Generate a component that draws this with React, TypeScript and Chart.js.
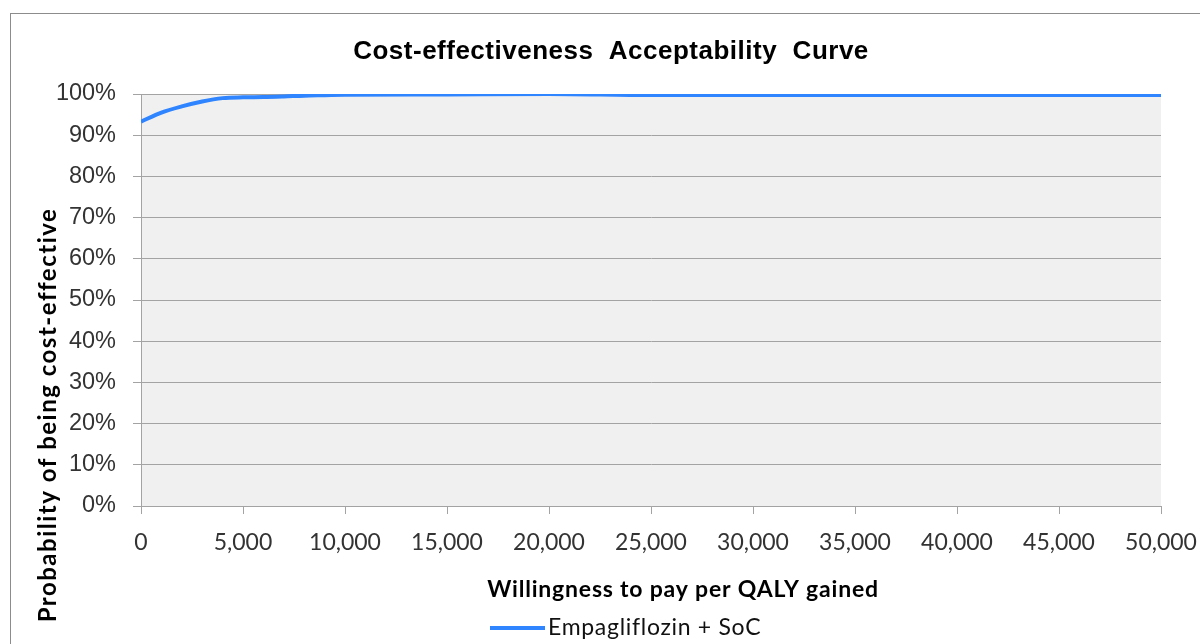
import React, { useEffect, useRef } from "react";
import { Chart, registerables } from "chart.js";

Chart.register(...registerables);

const chartTitle = "Cost-effectiveness  Acceptability  Curve";
const xAxisTitle = "Willingness to pay per QALY gained";
const yAxisTitle = "Probability of being cost-effective";
const seriesName = "Empagliflozin + SoC";

const wtpValues = [0, 1000, 2000, 3000, 4000, 5000, 6000, 7000, 8000, 9000, 10000, 15000, 20000, 25000, 30000, 35000, 40000, 45000, 50000];
const probValues = [93.3, 95.5, 97.0, 98.2, 99.0, 99.2, 99.25, 99.4, 99.6, 99.7, 99.8, 99.9, 100, 99.75, 99.75, 99.75, 99.75, 99.75, 99.75];

const xTickStep = 5000;
const yTickStep = 10;

const lineColor = "#2f84ff";
const gridColor = "#a3a3a3";
const textColor = "#333333";

const textPlugin = {
  id: "customTexts",
  beforeDraw(chart: any) {
    const { ctx, chartArea } = chart;
    ctx.save();
    ctx.fillStyle = "#f0f0f0";
    ctx.fillRect(chartArea.left, chartArea.top, chartArea.right - chartArea.left, chartArea.bottom - chartArea.top);
    ctx.restore();
  },
  afterDraw(chart: any) {
    const { ctx } = chart;
    ctx.save();
    ctx.fillStyle = "#000";
    ctx.textBaseline = "middle";
    ctx.textAlign = "center";
    ctx.font = "bold 26px 'Liberation Sans'";
    (ctx as any).letterSpacing = "0.5px";
    ctx.fillText(chartTitle, 611, 52);

    ctx.font = "bold 23px Lato";
    (ctx as any).letterSpacing = "0.8px";
    ctx.fillText(xAxisTitle, 683, 590);

    ctx.save();
    ctx.translate(48, 415);
    ctx.rotate(-Math.PI / 2);
    ctx.font = "bold 24px Lato";
    (ctx as any).letterSpacing = "1.5px";
    ctx.fillText(yAxisTitle, 0, 0);
    ctx.restore();

    ctx.strokeStyle = lineColor;
    ctx.lineWidth = 4;
    ctx.beginPath();
    ctx.moveTo(490, 628);
    ctx.lineTo(545, 628);
    ctx.stroke();
    ctx.textAlign = "left";
    ctx.font = "23px Lato";
    (ctx as any).letterSpacing = "0.7px";
    ctx.fillStyle = "#111";
    ctx.fillText(seriesName, 548, 628);
    ctx.restore();
  },
};

export default function App() {
  const canvasRef = useRef<HTMLCanvasElement | null>(null);

  useEffect(() => {
    if (!canvasRef.current) return;
    const chart = new Chart(canvasRef.current, {
      type: "line",
      data: {
        datasets: [
          {
            label: seriesName,
            data: wtpValues.map((x, i) => ({ x, y: probValues[i] })),
            borderColor: lineColor,
            borderWidth: 4,
            pointRadius: 0,
            fill: false,
            cubicInterpolationMode: "monotone",
          },
        ],
      },
      options: {
        animation: false,
        responsive: false,
        layout: { padding: { top: 94, right: 39, left: 0, bottom: 0 } },
        plugins: {
          legend: { display: false },
          title: { display: false },
          tooltip: { enabled: false },
        },
        scales: {
          x: {
            type: "linear",
            min: 0,
            max: 50000,
            ticks: {
              stepSize: xTickStep,
              color: textColor,
              font: { family: "Lato", size: 23 },
              padding: 15,
              maxRotation: 0,
              callback: (v: any) => Number(v).toLocaleString("en-US"),
            },
            grid: {
              drawOnChartArea: false,
              drawTicks: true,
              tickLength: 8,
              color: gridColor,
            },
            border: { color: gridColor },
            afterFit: (scale: any) => {
              scale.height = 138;
              scale.paddingRight = 0;
              scale.paddingLeft = 0;
            },
          },
          y: {
            min: 0,
            max: 100,
            ticks: {
              stepSize: yTickStep,
              color: textColor,
              font: { family: "Liberation Sans", size: 23.5 },
              padding: 17,
              callback: (v: any) => v + "%",
            },
            grid: {
              color: gridColor,
              tickLength: 8,
            },
            border: { color: gridColor },
            afterFit: (scale: any) => {
              scale.width = 141;
              scale.paddingTop = 0;
              scale.paddingBottom = 0;
            },
          },
        },
      },
      plugins: [textPlugin],
    });
    return () => chart.destroy();
  }, []);

  return (
    <div style={{ position: "fixed", left: 0, top: 0, width: 1200, height: 644, overflow: "hidden", background: "#fff" }}>
      <div
        style={{
          position: "absolute",
          left: 10,
          top: 13,
          width: 1300,
          height: 800,
          border: "1px solid #8c8c8c",
          boxSizing: "border-box",
        }}
      />
      <canvas
        ref={canvasRef}
        width={1200}
        height={644}
        style={{ position: "absolute", left: 0, top: 0, width: 1200, height: 644 }}
      />
    </div>
  );
}
